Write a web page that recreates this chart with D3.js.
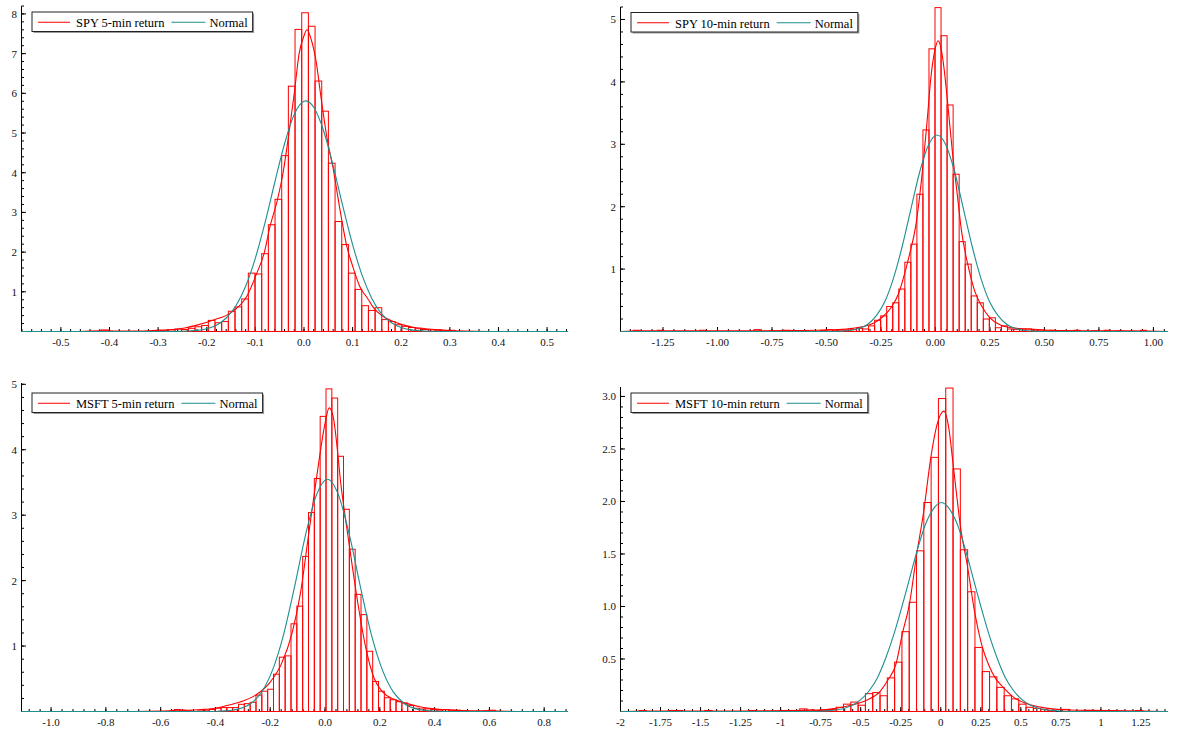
<!DOCTYPE html>
<html>
<head>
<meta charset="utf-8">
<script src="https://cdn.jsdelivr.net/npm/d3@7"></script>
<style>
  body { margin: 0; background: #fff; }
  svg { display: block; }
</style>
</head>
<body>
<svg id="chart" width="1179" height="733"></svg>
<script>
// ---------- SPY 5-min returns ----------
const spy5BinStart = -0.4300;
const spy5BinWidth = 0.01372;
const spy5Hist = [0,0.04,0,0,0,0,0,0,0,0.03,0.02,0.04,0.06,0.05,0.08,0.12,0.15,0.28,0.22,0.25,0.51,0.62,0.82,1.47,1.45,1.96,2.69,3.33,4.43,6.18,7.61,
  8.03,7.69,6.31,5.55,4.24,2.77,2.19,1.47,1.06,0.65,0.53,0.60,0.30,0.25,0.17,0.13,0.10,0.07,0.05,0.04,0.03,0.02,0.03];
const spy5Density = [[-0.581,0],[-0.46,0],[-0.42,0.02],[-0.38,0.01],[-0.33,0.01],[-0.30,0.03],[-0.27,0.05],[-0.245,0.09],[-0.22,0.16],[-0.186,0.29],
  [-0.151,0.47],[-0.117,0.9],[-0.097,1.47],[-0.082,1.97],[-0.07,2.64],[-0.055,3.3],[-0.043,4.0],[-0.032,4.9],[-0.02,6.0],[-0.01,7.0],[0.0,7.45],
  [0.006,7.6],[0.015,7.35],[0.025,6.8],[0.035,5.9],[0.047,4.9],[0.06,4.1],[0.075,3.0],[0.088,2.15],[0.1,1.65],[0.116,1.1],[0.13,0.85],[0.143,0.6],
  [0.16,0.4],[0.18,0.27],[0.2,0.18],[0.22,0.12],[0.25,0.07],[0.28,0.04],[0.31,0.02],[0.35,0.005],[0.4,0],[0.543,0]];
const spy5Normal = [[-0.581,0],[-0.30,0],[-0.26,0.004],[-0.24,0.011],[-0.22,0.028],[-0.20,0.071],[-0.18,0.16],[-0.16,0.34],[-0.14,0.65],[-0.12,1.14],
  [-0.10,1.85],[-0.08,2.75],[-0.06,3.76],[-0.04,4.73],[-0.02,5.47],[0.0,5.80],[0.004,5.81],[0.02,5.65],[0.04,5.07],[0.06,4.17],[0.08,3.15],[0.10,2.19],
  [0.12,1.40],[0.14,0.82],[0.16,0.44],[0.18,0.22],[0.20,0.099],[0.22,0.041],[0.24,0.016],[0.26,0.006],[0.30,0],[0.543,0]];
const spy5XTicks = [-0.5,-0.4,-0.3,-0.2,-0.1,0,0.1,0.2,0.3,0.4,0.5];
const spy5XLabels = ["-0.5","-0.4","-0.3","-0.2","-0.1","0.0","0.1","0.2","0.3","0.4","0.5"];
const spy5YTicks = [1,2,3,4,5,6,7,8];
const spy5YLabels = ["1","2","3","4","5","6","7","8"];

// ---------- SPY 10-min returns ----------
const spy10BinStart = -1.387;
const spy10BinWidth = 0.0277;
const spy10Hist = [0.02,0,0,0, 0.02,0,0,0,0,0,0, 0.02,0,0,0,0,0,0,0,0, 0.03,0,0,0,0, 0.02,0,0,0,0,0,
  0.02,0.03,0.02,0.01,0.02,0.03,0.05,0.04,0.09,0.18,0.25,0.40,0.46,0.68,1.11,1.40,2.20,3.23,4.53,
  5.19,4.74,3.63,2.52,1.44,1.08,0.57,0.46,0.20,0.22,0.06,0.09,0.04,0.03,0.04,0.04,0.02,0.02,0.01,0.02,
  0,0.01,0,0.02,0,0,0.01,0,0.02,0,0.01,0,0,0,0.02,0];
const spy10Density = [[-1.445,0],[-1.36,0.01],[-1.25,0.01],[-1.1,0.01],[-0.9,0.01],[-0.7,0.015],[-0.55,0.02],[-0.45,0.03],[-0.38,0.05],[-0.33,0.08],
  [-0.28,0.14],[-0.24,0.24],[-0.2,0.4],[-0.17,0.6],[-0.15,0.82],[-0.12,1.22],[-0.09,1.7],[-0.065,2.4],[-0.04,3.3],[-0.02,4.1],[0.0,4.55],[0.012,4.66],
  [0.025,4.55],[0.04,4.2],[0.055,3.7],[0.08,2.8],[0.1,2.2],[0.12,1.6],[0.15,1.05],[0.18,0.65],[0.21,0.42],[0.25,0.22],[0.3,0.1],[0.35,0.06],[0.4,0.045],
  [0.45,0.035],[0.5,0.025],[0.6,0.015],[0.75,0.01],[0.9,0.01],[1.067,0]];
const spy10Normal = [[-1.445,0],[-0.472,0],[-0.432,0.006],[-0.392,0.017],[-0.352,0.047],[-0.312,0.113],[-0.272,0.25],[-0.232,0.48],[-0.192,0.86],
  [-0.152,1.37],[-0.112,1.97],[-0.072,2.56],[-0.032,2.99],[0.008,3.15],[0.048,2.99],[0.088,2.56],[0.128,1.97],[0.168,1.37],[0.208,0.86],[0.248,0.48],
  [0.288,0.25],[0.328,0.113],[0.368,0.047],[0.408,0.017],[0.448,0.006],[0.488,0],[1.067,0]];
const spy10XTicks = [-1.25,-1,-0.75,-0.5,-0.25,0,0.25,0.5,0.75,1];
const spy10XLabels = ["-1.25","-1.00","-0.75","-0.50","-0.25","0.00","0.25","0.50","0.75","1.00"];
const spy10YTicks = [1,2,3,4,5];
const spy10YLabels = ["1","2","3","4","5"];

// ---------- MSFT 5-min returns ----------
const msft5BinStart = -0.5502;
const msft5BinWidth = 0.0213;
const msft5Hist = [0.03,0.02,0.01,0,0.01,0.02,0.03,0.05,0.06,0.06,0.06,0.11,0.12,0.14,0.25,0.31,0.34,0.57,0.83,0.85,1.34,1.61,2.37,3.04,3.56,4.51,
  4.93,4.79,3.90,3.09,2.48,1.79,1.48,0.92,0.46,0.31,0.21,0.18,0.15,0.13,0.09,0.05,0.04,0.04,0.03,0.02,0.03,0.02,0.02,0.01,0,0,0,0.01,0.02];
const msft5Density = [[-1.108,0],[-0.7,0],[-0.6,0.005],[-0.54,0.02],[-0.5,0.02],[-0.45,0.03],[-0.4,0.05],[-0.35,0.1],[-0.3,0.16],[-0.25,0.26],
  [-0.2,0.45],[-0.16,0.72],[-0.12,1.2],[-0.09,1.8],[-0.06,2.7],[-0.03,3.6],[0.0,4.4],[0.015,4.64],[0.03,4.5],[0.06,3.4],[0.09,2.5],[0.12,1.65],
  [0.15,0.95],[0.18,0.5],[0.21,0.3],[0.25,0.19],[0.3,0.12],[0.35,0.07],[0.4,0.04],[0.45,0.025],[0.5,0.015],[0.6,0.01],[0.7,0],[0.887,0]];
const msft5Normal = [[-1.108,0],[-0.431,0],[-0.391,0.004],[-0.351,0.014],[-0.311,0.044],[-0.271,0.123],[-0.231,0.30],[-0.191,0.64],[-0.151,1.18],
  [-0.111,1.91],[-0.071,2.70],[-0.031,3.31],[0.009,3.55],[0.049,3.31],[0.089,2.70],[0.129,1.91],[0.169,1.18],[0.209,0.64],[0.249,0.30],[0.289,0.123],
  [0.329,0.044],[0.369,0.014],[0.409,0.004],[0.449,0],[0.887,0]];
const msft5XTicks = [-1,-0.8,-0.6,-0.4,-0.2,0,0.2,0.4,0.6,0.8];
const msft5XLabels = ["-1.0","-0.8","-0.6","-0.4","-0.2","0.0","0.2","0.4","0.6","0.8"];
const msft5YTicks = [1,2,3,4,5];
const msft5YLabels = ["1","2","3","4","5"];

// ---------- MSFT 10-min returns ----------
const msft10BinStart = -1.8842;
const msft10BinWidth = 0.0456;
const msft10Hist = [0.01,0,0,0,0.01,0.01,0,0,0,0.01,0,0,0,0,0,0.01,0,0,0,0,
  0.01,0.01,0.025,0.015,0.01,0.01,0.02,0.04,0.07,0.09,0.06,0.17,0.18,0.15,0.32,0.47,0.76,1.04,1.53,1.99,2.42,2.98,
  3.08,2.31,1.54,1.14,0.61,0.38,0.33,0.23,0.15,0.12,0.07,0.04,0.03,0.02,0.01,0,0.02,0,0,0.01,0.01,0.01,0,0,0,0,0.01];
const msft10Density = [[-2.0,0],[-1.86,0.005],[-1.6,0.005],[-1.2,0.005],[-0.9,0.01],[-0.8,0.012],[-0.7,0.02],[-0.66,0.03],[-0.56,0.06],[-0.46,0.11],
  [-0.38,0.19],[-0.33,0.3],[-0.28,0.45],[-0.24,0.74],[-0.196,1.02],[-0.15,1.5],[-0.107,1.9],[-0.062,2.42],[-0.02,2.75],[0.019,2.86],[0.05,2.7],
  [0.076,2.37],[0.1,2.05],[0.122,1.77],[0.165,1.4],[0.21,0.96],[0.255,0.64],[0.3,0.44],[0.34,0.32],[0.39,0.23],[0.46,0.13],[0.57,0.06],[0.67,0.03],
  [0.8,0.015],[1.0,0.01],[1.25,0.005],[1.419,0]];
const msft10Normal = [[-2.0,0],[-0.796,0],[-0.746,0.003],[-0.696,0.008],[-0.646,0.017],[-0.596,0.034],[-0.546,0.064],[-0.496,0.117],[-0.446,0.20],
  [-0.396,0.32],[-0.346,0.50],[-0.296,0.72],[-0.246,0.98],[-0.196,1.26],[-0.146,1.54],[-0.096,1.78],[-0.046,1.93],[0.004,1.99],[0.054,1.93],[0.104,1.78],
  [0.154,1.54],[0.204,1.26],[0.254,0.98],[0.304,0.72],[0.354,0.50],[0.404,0.32],[0.454,0.20],[0.504,0.117],[0.554,0.064],[0.604,0.034],[0.654,0.017],
  [0.704,0.008],[0.754,0.003],[0.804,0],[1.419,0]];
const msft10XTicks = [-2,-1.75,-1.5,-1.25,-1,-0.75,-0.5,-0.25,0,0.25,0.5,0.75,1,1.25];
const msft10XLabels = ["-2","-1.75","-1.5","-1.25","-1","-0.75","-0.5","-0.25","0","0.25","0.5","0.75","1","1.25"];
const msft10YTicks = [0.5,1,1.5,2,2.5,3];
const msft10YLabels = ["0.5","1.0","1.5","2.0","2.5","3.0"];

// ---------- panel layout ----------
const panels = [
  { title: "SPY 5-min return", binStart: spy5BinStart, binWidth: spy5BinWidth, hist: spy5Hist, density: spy5Density, normal: spy5Normal,
    xTicks: spy5XTicks, xLabels: spy5XLabels, yTicks: spy5YTicks, yLabels: spy5YLabels, xMinor: 0.02, yMinor: 0.2,
    xDomain: [-0.581, 0.543], yMax: 8.2, left: 21.5, right: 568, top: 6, bottom: 331.5, legendX: 32, legendY: 12 },
  { title: "SPY 10-min return", binStart: spy10BinStart, binWidth: spy10BinWidth, hist: spy10Hist, density: spy10Density, normal: spy10Normal,
    xTicks: spy10XTicks, xLabels: spy10XLabels, yTicks: spy10YTicks, yLabels: spy10YLabels, xMinor: 0.05, yMinor: 0.2,
    xDomain: [-1.445, 1.067], yMax: 5.2, left: 620.5, right: 1168, top: 7, bottom: 331.5, legendX: 631, legendY: 12.5 },
  { title: "MSFT 5-min return", binStart: msft5BinStart, binWidth: msft5BinWidth, hist: msft5Hist, density: msft5Density, normal: msft5Normal,
    xTicks: msft5XTicks, xLabels: msft5XLabels, yTicks: msft5YTicks, yLabels: msft5YLabels, xMinor: 0.04, yMinor: 0.2,
    xDomain: [-1.108, 0.887], yMax: 5.02, left: 21.5, right: 568, top: 383, bottom: 711.5, legendX: 32, legendY: 393 },
  { title: "MSFT 10-min return", binStart: msft10BinStart, binWidth: msft10BinWidth, hist: msft10Hist, density: msft10Density, normal: msft10Normal,
    xTicks: msft10XTicks, xLabels: msft10XLabels, yTicks: msft10YTicks, yLabels: msft10YLabels, xMinor: 0.05, yMinor: 0.1,
    xDomain: [-2.0, 1.419], yMax: 3.09, left: 620.5, right: 1168, top: 387, bottom: 711.5, legendX: 631, legendY: 393 }
];

const RED = "#ff0000";
const TEAL = "#1d8f8f";
const FONT = "'Liberation Serif', 'Times New Roman', serif";
const svg = d3.select("#chart");

function stepTicks(domain, step) {
  const out = [];
  const k0 = Math.ceil(domain[0] / step - 1e-9), k1 = Math.floor(domain[1] / step + 1e-9);
  for (let k = k0; k <= k1; k++) out.push(+(k * step).toFixed(6));
  return out;
}

function drawPanel(p) {
  const g = svg.append("g");
  const x = d3.scaleLinear().domain(p.xDomain).range([p.left, p.right]);
  const y = d3.scaleLinear().domain([0, p.yMax]).range([p.bottom, p.top]);

  // axes frame (left and bottom)
  g.append("line").attr("x1", p.left).attr("x2", p.left).attr("y1", p.top).attr("y2", p.bottom)
    .attr("stroke", "#000").attr("stroke-width", 1);
  g.append("line").attr("x1", p.left).attr("x2", p.right).attr("y1", p.bottom).attr("y2", p.bottom)
    .attr("stroke", "#000").attr("stroke-width", 1);

  // x ticks: minor then major, pointing up into the plot
  stepTicks(p.xDomain, p.xMinor).forEach(v => {
    g.append("line").attr("x1", x(v)).attr("x2", x(v)).attr("y1", p.bottom).attr("y2", p.bottom - 2.5)
      .attr("stroke", "#000").attr("stroke-width", 1);
  });
  p.xTicks.forEach((v, i) => {
    g.append("line").attr("x1", x(v)).attr("x2", x(v)).attr("y1", p.bottom).attr("y2", p.bottom - 4.5)
      .attr("stroke", "#000").attr("stroke-width", 1);
    g.append("text").attr("x", x(v)).attr("y", p.bottom + 14).attr("text-anchor", "middle")
      .attr("font-family", FONT).attr("font-size", 11).attr("fill", "#111").text(p.xLabels[i]);
  });

  // y ticks, pointing right into the plot
  stepTicks([0, p.yMax], p.yMinor).filter(v => v > 0).forEach(v => {
    g.append("line").attr("x1", p.left).attr("x2", p.left + 2.5).attr("y1", y(v)).attr("y2", y(v))
      .attr("stroke", "#000").attr("stroke-width", 1);
  });
  p.yTicks.forEach((v, i) => {
    g.append("line").attr("x1", p.left).attr("x2", p.left + 4.5).attr("y1", y(v)).attr("y2", y(v))
      .attr("stroke", "#000").attr("stroke-width", 1);
    g.append("text").attr("x", p.left - 4.5).attr("y", y(v) + 4).attr("text-anchor", "end")
      .attr("font-family", FONT).attr("font-size", 11).attr("fill", "#111").text(p.yLabels[i]);
  });

  // histogram bars (outlined)
  const bins = p.hist.map((h, i) => ({ x0: p.binStart + i * p.binWidth, x1: p.binStart + (i + 1) * p.binWidth, h }))
    .filter(b => b.h > 0);
  g.selectAll("rect.bar").data(bins).join("rect").attr("class", "bar")
    .attr("x", b => x(b.x0)).attr("width", b => x(b.x1) - x(b.x0))
    .attr("y", b => y(b.h)).attr("height", b => y(0) - y(b.h))
    .attr("fill", "none").attr("stroke", RED).attr("stroke-width", 1);

  const line = d3.line().x(d => x(d[0])).y(d => y(d[1])).curve(d3.curveMonotoneX);
  g.append("path").attr("d", line(p.density)).attr("fill", "none").attr("stroke", RED).attr("stroke-width", 1.1);
  g.append("path").attr("d", line(p.normal)).attr("fill", "none").attr("stroke", TEAL).attr("stroke-width", 1.1);

  // legend
  const lg = g.append("g");
  const shadow = lg.append("rect");
  const box = lg.append("rect");
  const lx = p.legendX, ly = p.legendY, lh = 19.5;
  const midY = ly + lh / 2 + 0.5;
  lg.append("line").attr("x1", lx + 6).attr("x2", lx + 38).attr("y1", midY).attr("y2", midY).attr("stroke", RED).attr("stroke-width", 1);
  const t1 = lg.append("text").attr("x", lx + 44).attr("y", ly + 15).attr("font-family", FONT).attr("font-size", 12.5)
    .attr("fill", "#000").text(p.title);
  const w1 = t1.node().getComputedTextLength();
  const tx = lx + 44 + w1 + 7;
  lg.append("line").attr("x1", tx).attr("x2", tx + 34).attr("y1", midY).attr("y2", midY).attr("stroke", TEAL).attr("stroke-width", 1);
  const t2 = lg.append("text").attr("x", tx + 38).attr("y", ly + 15).attr("font-family", FONT).attr("font-size", 12.5)
    .attr("fill", "#000").text("Normal");
  const w2 = t2.node().getComputedTextLength();
  const bw = tx + 38 + w2 + 5 - lx;
  shadow.attr("x", lx + 1.5).attr("y", ly + 1.5).attr("width", bw).attr("height", lh).attr("fill", "#9a9a9a");
  box.attr("x", lx).attr("y", ly).attr("width", bw).attr("height", lh).attr("fill", "#fff").attr("stroke", "#222").attr("stroke-width", 1);
}

panels.forEach(drawPanel);
</script>
</body>
</html>
